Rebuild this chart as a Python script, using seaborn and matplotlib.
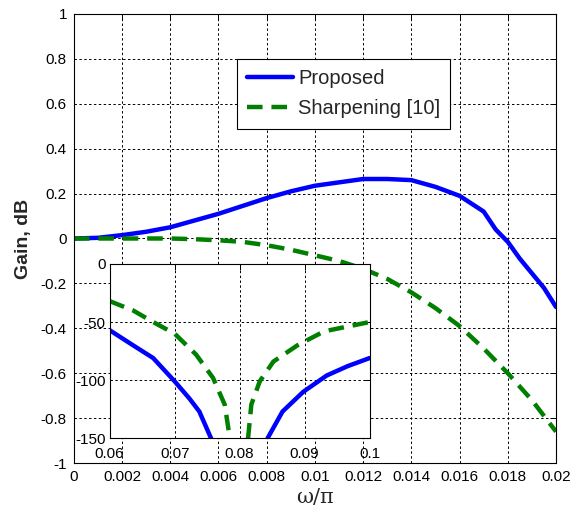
import matplotlib
matplotlib.use("Agg")
import matplotlib.pyplot as plt
import seaborn as sns
import numpy as np
import pandas as pd

# ---------------- data ----------------
w_main = [0.0, 0.001, 0.002, 0.003, 0.004, 0.005, 0.006, 0.007, 0.008, 0.009,
          0.010, 0.011, 0.012, 0.013, 0.014, 0.015, 0.016, 0.017, 0.0175, 0.018,
          0.0185, 0.019, 0.0195, 0.020]
gain_proposed = [0.0, 0.003, 0.015, 0.03, 0.05, 0.08, 0.11, 0.145, 0.18, 0.21,
                 0.235, 0.25, 0.265, 0.265, 0.26, 0.23, 0.19, 0.12, 0.04, -0.015,
                 -0.09, -0.155, -0.22, -0.305]
gain_sharpening = [0.0, 0.0, 0.0, 0.0, 0.0, -0.003, -0.008, -0.015, -0.03, -0.05,
                   -0.075, -0.1, -0.135, -0.18, -0.24, -0.31, -0.39, -0.49, -0.545, -0.6,
                   -0.66, -0.72, -0.79, -0.86]

# inset: stopband around the notch (dB)
w_in_prop = [0.06, 0.0636, 0.0667, 0.07, 0.0723, 0.0738, 0.0756, 0.0762, np.nan,
             0.0838, 0.0843, 0.0866, 0.0898, 0.0934, 0.0966, 0.1]
db_in_prop = [-57, -70, -81, -101, -116, -127, -150, -165, np.nan,
              -165, -150, -127, -110, -96, -88, -81]
w_in_sharp = [0.06, 0.0636, 0.0667, 0.07, 0.0733, 0.0759, 0.0777, 0.0785, 0.0788, np.nan,
              0.0811, 0.0813, 0.0818, 0.0831, 0.0852, 0.0889, 0.093, 0.1]
db_in_sharp = [-32, -40, -50, -60, -78, -98, -121, -150, -165, np.nan,
               -165, -150, -121, -101, -84, -70, -58, -50]

main_xticks = [0, 0.002, 0.004, 0.006, 0.008, 0.01, 0.012, 0.014, 0.016, 0.018, 0.02]
main_xlabels = ['0', '0.002', '0.004', '0.006', '0.008', '0.01', '0.012', '0.014', '0.016', '0.018', '0.02']
main_yticks = [-1, -0.8, -0.6, -0.4, -0.2, 0, 0.2, 0.4, 0.6, 0.8, 1]
main_ylabels = ['-1', '-0.8', '-0.6', '-0.4', '-0.2', '0', '0.2', '0.4', '0.6', '0.8', '1']
inset_xticks = [0.06, 0.07, 0.08, 0.09, 0.1]
inset_xlabels = ['0.06', '0.07', '0.08', '0.09', '0.1']
inset_yticks = [-150, -100, -50, 0]
inset_ylabels = ['-150', '-100', '-50', '0']

blue = '#0000ff'
green = '#007f00'

sns.set_style("white")
plt.rcParams['font.family'] = ['Liberation Sans', 'DejaVu Sans']

df_main = pd.DataFrame({'w': w_main, 'prop': gain_proposed, 'sharp': gain_sharpening})

fig = plt.figure(figsize=(5.77, 5.16), dpi=100)
ax = fig.add_axes([0.128, 0.1027, 0.8356, 0.8702])

sns.lineplot(data=df_main, x='w', y='prop', ax=ax, color=blue, linewidth=3.2,
             label='Proposed', sort=False)
sns.lineplot(data=df_main, x='w', y='sharp', ax=ax, color=green, linewidth=3.2,
             label='Sharpening [10]', sort=False)
ax.lines[1].set_dashes([3.5, 2])

grid_kw = dict(color='black', linestyle=(0, (2.5, 2.5)), linewidth=0.7)


def matlab_axes(a, xt, xl, yt, yl, fs, pad):
    a.set_xticks(xt)
    a.set_xticklabels(xl)
    a.set_yticks(yt)
    a.set_yticklabels(yl)
    a.tick_params(direction='in', length=4, width=0.7, labelsize=fs, colors='black',
                  top=True, right=True, pad=pad)
    a.grid(True, **grid_kw)
    for s in a.spines.values():
        s.set_color('black')
        s.set_linewidth(0.8)
        s.set_visible(True)


ax.set_xlim(0, 0.02)
ax.set_ylim(-1, 1)
matlab_axes(ax, main_xticks, main_xlabels, main_yticks, main_ylabels, 11, 5)
ax.set_xlabel('ω/π', fontsize=15, family=['DejaVu Serif'], labelpad=3)
ax.set_ylabel('Gain, dB', fontsize=14, fontweight='bold', labelpad=6)

leg = ax.legend(loc='upper left', bbox_to_anchor=(0.338, 0.899), fontsize=14.5,
                frameon=True, fancybox=False, handlelength=2.3, borderpad=0.5,
                labelspacing=0.55, handletextpad=0.25, borderaxespad=0)
leg.get_frame().set_edgecolor('black')
leg.get_frame().set_linewidth(0.8)
leg.get_frame().set_alpha(1)

# ---------------- inset ----------------
axi = fig.add_axes([0.19, 0.1507, 0.4506, 0.3378])
axi.set_facecolor('white')
sns.lineplot(x=w_in_prop, y=db_in_prop, ax=axi, color=blue, linewidth=3.2, sort=False)
sns.lineplot(x=w_in_sharp, y=db_in_sharp, ax=axi, color=green, linewidth=3.2, sort=False)
axi.lines[1].set_dashes([3.5, 2])
axi.set_xlim(0.06, 0.1)
axi.set_ylim(-150, 0)
matlab_axes(axi, inset_xticks, inset_xlabels, inset_yticks, inset_ylabels, 11, 6)
axi.tick_params(axis='y', pad=3)

fig.savefig('out.png', dpi=100)
